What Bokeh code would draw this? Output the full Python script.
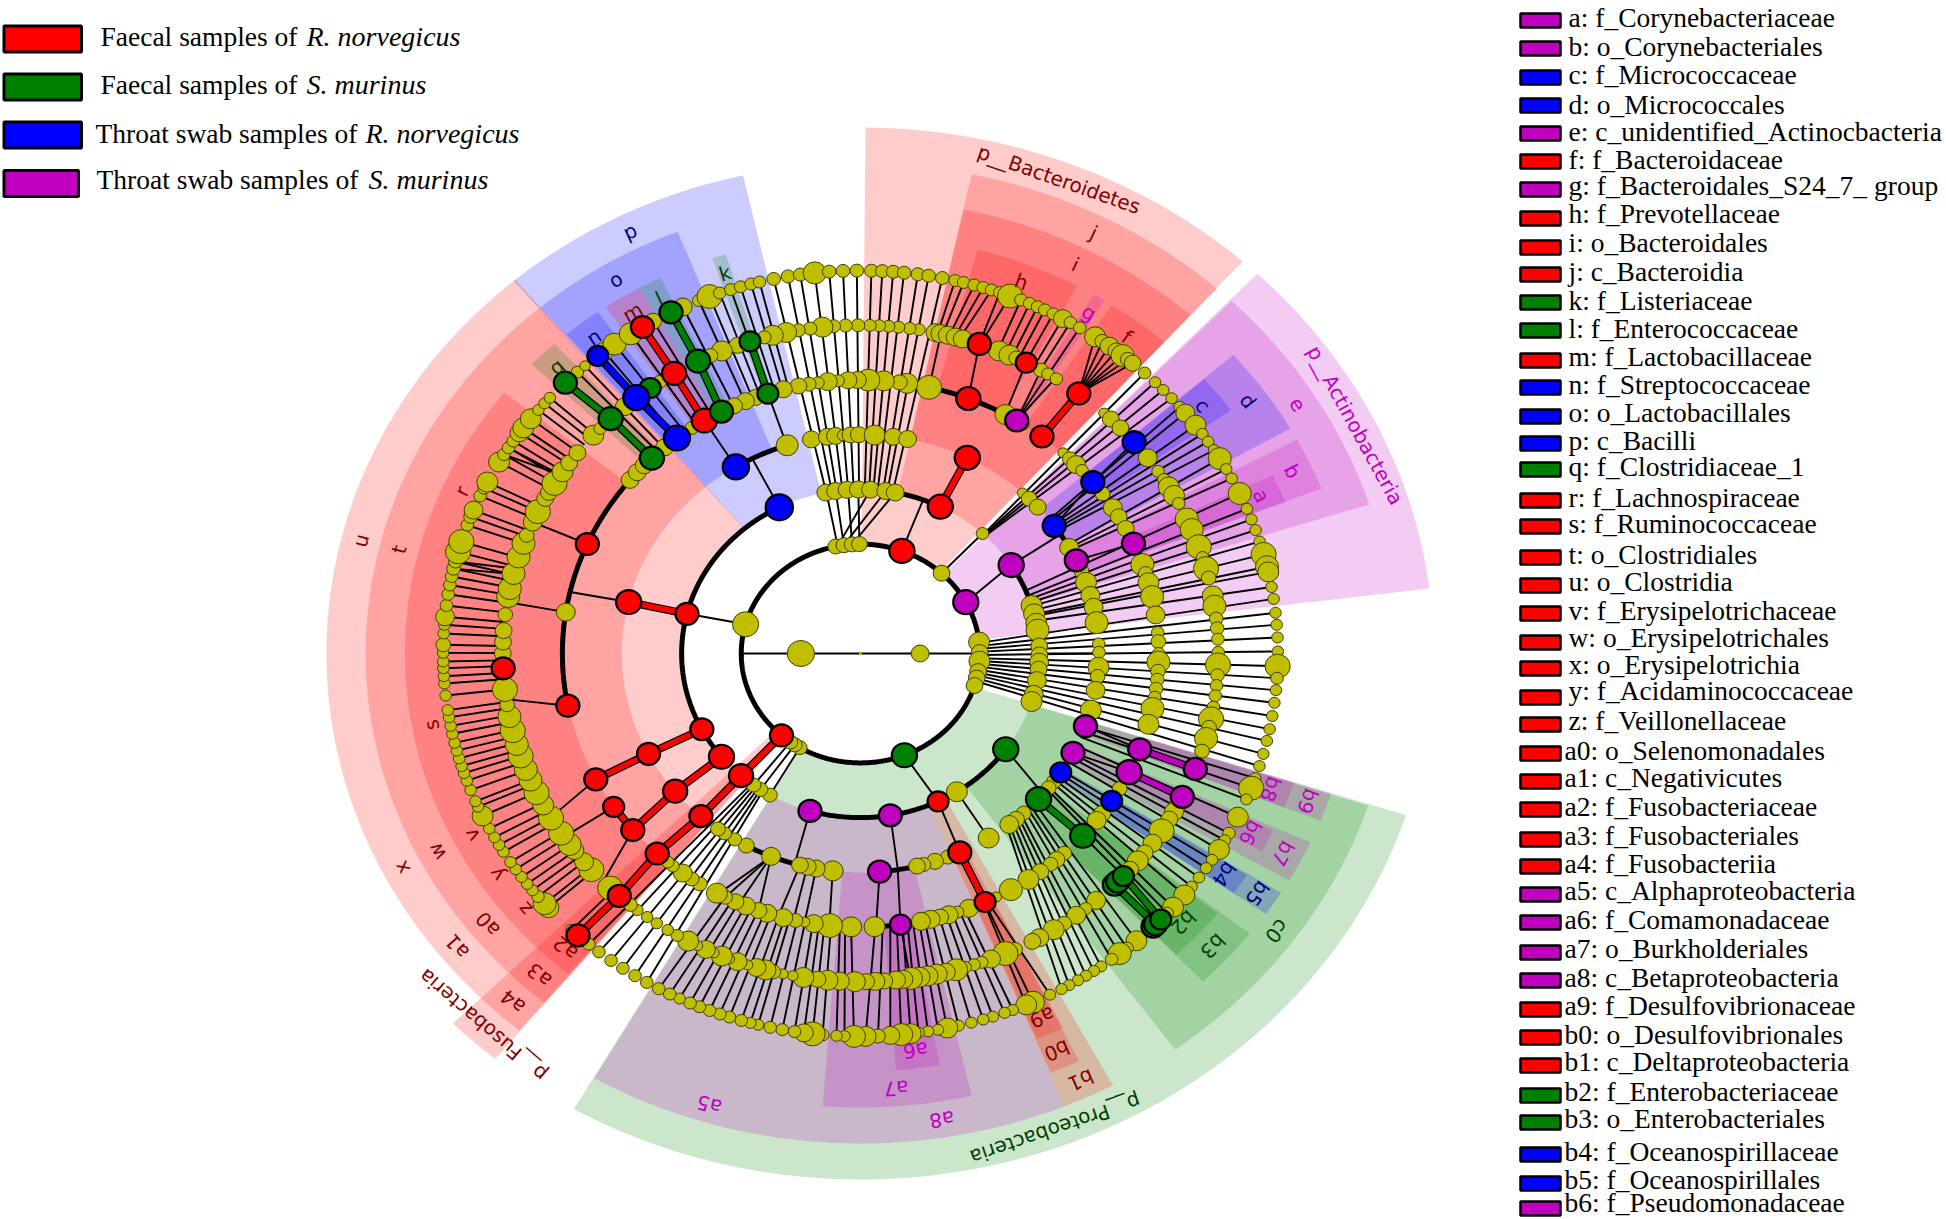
import math
from bokeh.plotting import figure
from bokeh.core.properties import value
from bokeh.embed import file_html
from bokeh.resources import INLINE

# ---------- taxa and clade sectors (degrees clockwise from 12 o'clock) ----------
wedge_label = ["p__Bacteroidetes","p__Actinobacteria","p__Proteobacteria","p__Fusobacteria",
 "e","j","p","u","x","a1","a4","c0","a5","a8","b1",
 "b","d","i","o","t","w","a0","a3","b3","b5","b7","b9","a7","b0",
 "a","c","f","g","h","k","l","m","n","q","r","s","v","y","z","a2","a6","a9","b2","b4","b6","b8"]
wedge_start = [0.5,43.8,107.9,219.6,
 44,12,319.5,248,238,225.3,219.7,108.1,184.3,157.5,151.8,
 61.9,48.9,12,319.7,248,238,225.3,219.7,128.1,121.8,114.6,108,167,153.8,
 64.8,49,33.5,30.8,14.9,341,331,326,319.8,313.8,279.3,248,238,235,225.3,219.9,170,153.6,128.4,122,115,108]
wedge_end = [41.8,82.9,210,225.3,
 72.3,41.9,347.3,319.7,248,238,225.3,143.9,209.9,184.3,157.5,
 68.7,60.3,41.8,338.3,319.6,248,238,225.3,136.2,125,120,111.6,184.4,157.4,
 68.8,54.4,41.8,32.4,28.4,342.8,334,331,324.8,317.8,308.6,279.3,248,238,235,225.3,175.5,157.2,136.1,125,118.2,111.6]
wedge_level = [2]*4 + [3]*11 + [4]*14 + [5]*22
wedge_group = ["r","m","g","r",
 "m","r","b","r","r","r","r","g","m","m","r",
 "m","b","r","b","r","r","r","r","g","b","m","m","m","r",
 "m","b","r","m","r","g","g","r","b","g","r","r","r","r","r","r","m","r","g","b","m","m"]
label_angle_override = {"p__Fusobacteria":223.0,"p__Proteobacteria":159.4,"p__Bacteroidetes":21.0,
                        "p__Actinobacteria":63.3,"s":259.7,"z":230.3,"y":236.5}

# ---------- olive (non significant) nodes per ring: (angle, diameter) ----------
ring1 = [(90,17),(270,26)]
ring2 = [(348,15),(352,15),(356,15),(359.5,15),(42.8,16),(84,20),(89.5,16),(94,20),(99.5,16),(103,16),(107,16),
         (210.6,14),(213.4,14),(216,14),(285.5,25)]
ring3 = [(348.8,17),(352,17),(355.7,17),(359.3,17),(3.2,17),(8.1,17),(11.2,17),(43,12),(73,20),(76,20),(79.4,20),
         (81.8,22),(87.4,16),(90.5,16),(93,18),(95.5,16),(99.5,18),(104.4,18),(107,20),(147.4,20),
         (210.4,14),(214,14),(216.7,14)]
ring4 = [(342.1,21),(348.1,17),(352,17),(354,17),(355.8,11),(357.6,16),(359.6,16),(3.4,20),(7.9,17),(11.4,17),
         (42.8,10),(45,15),(48,16),(61,18),(67.9,14),(71,20),(74.6,18),(77.8,18),(81.9,22),(87.5,12),(89.7,12),
         (93.6,20),(96,14),(99.7,18),(105,20),(125.8,14),(127.9,14),(136.8,14),(139.3,16),(141.4,18),(147.5,20),
         (158.5,14),(161.8,16),(164.7,14),(166.3,16),(186.7,20),(190.7,17),(192.9,17),(194.7,16),(202,18),
         (208.6,15),(211.8,13),(214.7,13),(216.7,14)]
ring5 = [(13.3,24),(9,20),(7.5,15),(4.5,20),(1.5,22),(359.4,17),(357.6,17),(355.7,12),(353.7,18),(351.8,12),(350,14),
         (348,16),(345,17),(339.4,16),(337.3,17),(334.9,16),(29.1,20),(33,12),(42.8,10),(44.6,14),(46.3,18),(48,12),
         (54.3,14),(57.8,18),(60,16),(62.8,16),(71,22),(73,14),(75,20),(78,22),(81.9,18),(85.6,12),(87.5,14),(90,12),
         (91.8,22),(93.7,14),(95.5,13),(97.4,13),(99.2,12),(101.6,22),(105,20),(119.6,14),(125.8,16),(127.6,18),
         (136.9,14),(138.9,16),(140.4,14),(142.9,16),(145.7,20),(149.7,22),(152.9,10),(158.7,18),(161,12),(162.8,18),
         (164.5,16),(166.4,18),(168.3,18),(177.3,20),(181.8,20),(185.9,24),(189,18),(190.8,10),(192.6,14),(195,18),
         (198.2,18),(200,16),(202.6,18),(204.8,16),(207,14),(208.8,20),(212.6,14),(214.5,14),(216.6,18),(219,12),
         (220.3,12),(278.7,18),(309.4,17),(311.5,17),(313.5,17),(318.9,17),(325.6,13)]
ring6 = [(12.1,18),(9.4,12),(7.9,12),(6.1,12),(4.5,12),(3,12),(1.5,12),(359.6,13),(357.6,13),(355.7,13),(353.9,20),
         (351.9,13),(350,13),(348,20),(345.8,20),(344.4,13),(339.9,16),(337.2,20),(335.2,14),
         (12.9,18),(14.1,18),(15.4,18),(16.6,18),(22.8,20),(24.6,20),(25.8,14),(30.3,14),(31.6,12),(33.2,12),
         (42.9,10),(44.4,16),(46.6,16),(53.4,18),(56.3,12),(58,12),(59.5,20),(61.2,20),(62.8,12),(65.8,22),(67.8,22),
         (71,24),(73,12),(75,24),(76.7,14),(79.9,20),(81.7,22),(83.9,13),(85.6,13),(87.5,12),(89.8,12),(92,24),(93.8,13),
         (95.6,12),(97.4,12),(99.4,12),(101.5,24),(103,14),(105,22),(107.3,14),(117.7,16),(118.8,18),(120.3,16),(122.7,24),
         (125.3,18),(127.4,16),(129.2,20),(131.1,16),(138.8,18),(141,12),(142.9,18),(145.3,14),(147.3,20),(150,18),(151.3,16),
         (154.4,14),(156.1,24),(158.6,18),(160.2,12),(161.5,12),(163,12),(164.5,22),(166.2,18),(167.7,20),(169.2,20),(170.5,20),
         (171.9,22),(173.1,18),(174.3,18),(176.2,16),(177.6,18),(179.1,16),(180.9,20),(183.3,18),(185.3,20),(186.9,16),(189.2,20),
         (190.9,10),(192.5,10),(194.1,14),(195.4,20),(196.9,18),(198.4,10),(200.1,18),(201.5,10),(202.8,20),(204.2,10),(205.6,18),
         (207.1,10),(208.8,20),(210.8,12),(212.6,11),(214.7,11),(216.6,11),(218.6,11),(220,13),(224.4,24),(228.8,24),(230.6,18),
         (233.1,18),(234.4,22),(236.8,24),(239.9,24),(242.5,20),(244.9,24),(247.3,22),(249.3,22),(251.8,24),(253.9,22),(256.4,24),
         (258.9,22),(261,14),(263.7,24),(270,16),(272,16),(274,16),(276.8,14),(280,22),(281.4,22),(284.1,22),(287.1,22),(289.6,22),
         (291.1,14),(293.6,18),(295.6,24),(298.2,16),(299.4,16),(301.2,24),(303.6,20),(305.5,16),(307.7,16),(311.7,20),(313.3,12),
         (318.8,18),(325.8,13)]
ring7 = [(223.8,11),(228.4,20),(229.2,22),(230.6,12),(231.8,11),(233,11),(234.3,11),(235.7,11),(237,11),(238.8,11),(240,11),
         (241.3,11),(242.8,11),(244.9,20),(246.4,11),(247.3,11),(249.1,11),(250.6,11),(251.8,11),(252.9,11),(254.1,11),(255.3,11),
         (256.5,11),(257.9,11),(259.1,11),(260.4,11),(261.5,11),(263.7,11),(265.5,11),(266.6,11),(267.8,11),(268.8,11),(270.1,11),
         (271.3,14),(273,11),(274.3,11),(275.5,18),(277.2,12),(278.9,12),(280.3,12),(281.6,12),(282.8,13),(283.9,13),(285.4,24),
         (287,24),(289.6,12),(290.9,13),(292,18),(294.3,12),(295.6,12),(296.6,20),(300,20),(301.3,12),(302.5,12),(303.7,12),(305.2,18),
         (306.1,20),(307.8,20),(309.5,11),(310.8,11),(311.9,11),(317.3,12),(318.7,10),(322.1,18),(323.9,22),(326.6,22),(330.2,16),
         (334.8,18),(337.2,12),(338.8,24),(340.3,12),(341.9,12),(343.3,12),(344.8,12),(346,12),(348,13),(350,13),(351.7,13),(353.7,22),
         (355.7,13),(357.6,13),(359.5,13),(1.5,13),(3,13),(4.5,13),(6,13),(7.9,13),(9.4,13),(11.3,13),(13.1,12),(14.3,12),(15.8,12),
         (17.1,12),(18.3,12),(19.5,12),(21,24),(22.6,12),(23.9,12),(25.1,12),(26.2,12),(27.5,12),(29,18),(30.2,12),(31.7,12),(34.2,20),
         (35.4,14),(36.6,18),(37.8,16),(38.9,22),(39.8,14),(40.7,16),(42.9,12),(44.9,11),(46.5,11),(48.2,11),(49.9,11),(51.1,18),(53.4,20),
         (55,11),(56.4,11),(57.9,11),(59.4,22),(61.2,11),(62.8,11),(65.3,22),(67.8,11),(69.5,11),(71.2,11),(73,11),(75,24),(76.9,22),(77.7,20),
         (80,11),(81.8,11),(83.9,11),(85.7,11),(87.6,11),(89.7,11),(91.9,24),(93.7,12),(95.5,11),(97.4,11),(99.4,11),(101.4,11),(103.2,11),
         (105.2,11),(107.1,11),(109,11),(110.6,24),(112.4,11),(115.3,20),(118,12),(119.2,11),(120.8,20),(122.6,11),(124.1,11),(125.8,11),
         (127.5,11),(129.1,20),(131.5,20),(132.7,12),(138.6,20),(140.3,12),(141.6,22),(143,12),(144.8,11),(146,11),(147.3,11),(148.6,11),(150,11),
         (151.2,11),(153,11),(155.6,22),(156.6,20),(158.6,11),(159.8,11),(161.5,11),(162.9,11),(164.6,11),(166.4,11),(168,20),(169.3,11),(170.7,11),
         (172,11),(173.1,20),(174.4,22),(175.9,18),(177.6,14),(179.3,20),(180.9,22),(182.2,11),(183.3,11),(185.2,12),(186.6,24),(187.8,18),(189.1,12),
         (190.8,12),(192.5,12),(194.2,11),(195.3,11),(196.6,12),(198.3,12),(199.7,12),(201.2,12),(202.7,12),(204.1,12),(205.7,11),(207.2,12),(208.9,12),
         (210.8,12),(212.7,12),(214.7,12),(216.7,12),(218.8,12),(220.6,12)]

# ---------- significant nodes: (ring, angle, group, diameter) ----------
sig_nodes = [(2,20.3,"r",24),(2,62,"m",24),(2,158.4,"g",24),(2,221.5,"r",22),
 (3,333,"b",26),(3,284,"r",22),(3,242.5,"r",22),(3,231,"r",24),(3,221.9,"r",23),(3,26.5,"r",24),(3,57.4,"m",24),
 (3,125.7,"g",24),(3,154.3,"r",20),(3,170.4,"m",22),(3,196.4,"m",22),
 (4,328.5,"b",25),(4,26.6,"r",24),(4,54.3,"b",22),(4,64.8,"m",22),(4,109.4,"m",22),(4,117,"m",22),(4,122.9,"b",20),
 (4,131.7,"g",24),(4,155.4,"r",22),(4,175.4,"m",22),(4,222,"r",22),(4,231,"r",23),(4,242.7,"r",22),(4,283.6,"r",24),
 (5,229.8,"r",22),(5,235.9,"r",20),(5,242.6,"r",22),(5,223,"r",22),(5,293.6,"r",22),(5,259,"r",22),(5,315.6,"g",23),
 (5,322,"b",25),(5,328.4,"r",24),(5,332.2,"g",22),(5,341.9,"g",20),(5,21.2,"r",23),(5,31.6,"m",22),(5,37.5,"r",22),
 (5,51.2,"b",22),(5,66.3,"m",22),(5,110.5,"m",22),(5,115.7,"m",24),(5,122.6,"b",20),(5,131.8,"g",24),(5,155.3,"r",20),(5,172.3,"m",20),
 (6,267.4,"r",22),(6,315.7,"g",23),(6,324,"g",20),(6,321.2,"b",25),(6,328.6,"r",23),(6,333,"g",23),(6,342,"g",20),(6,19.4,"r",22),(6,27.6,"r",20),
 (6,37.6,"r",22),(6,49.9,"b",22),(6,110.6,"m",22),(6,115.9,"m",22),(6,134.8,"g",22),(6,134,"g",22),(6,132.7,"g",20),(6,222.4,"r",22),
 (7,222.6,"r",22),(7,315,"g",22),(7,321,"b",20),(7,328.5,"r",22),(7,333,"g",22),(7,135.5,"g",22),(7,135,"g",22),(7,134,"g",20)]

# ---------- tree structure ----------
arcs = [(2,0,360),(3,231,333),(3,349,386.5),(3,57.4,107),(3,125.7,196.4),(4,328.5,342),(4,54.3,61),(4,166.3,175.4),
        (4,194.7,208.6),(5,259,309.4),(5,13.3,29.1),(5,172.3,177.3)]
# leaf fans: first angle, last angle, ring reached, centre of fan, narrowing
fans = [(223.5,312,6,268,1),(312,347.5,5,330,1),(347.5,372,3,0,.92),(11,19,6,11,.7),(19,21.5,6,19.4,.1),(21.5,32,6,27,1),
        (33.5,41,6,37.6,0),(42,49,3,43.5,.15),(49.5,58,4,54.3,.45),(58,64,4,61,.45),(64,80,3,74,.75),(80,108,2,95,.8),
        (108,122,4,113,.85),(122,133,4,122,.6),(138,152,4,119,.72),(152.5,158,5,155.3,.2),(158,180,5,165,.85),
        (180,209.5,5,190,.9),(210,221,3,215,.45)]
thin_edges = [(0,0,1,90),(0,0,1,270),(1,90,2,90),(1,270,2,270),
 (2,20.3,3,20.5),(2,285.5,3,284),(2,42.8,3,43),(2,62,3,57.4),(2,158.4,3,154.3),(2,349,3,349),(2,352,3,352),(2,356,3,356),(2,359.5,3,359.3),
 (2,349,3,3.2),(2,352,3,8.1),(2,356,3,11.2),(2,210.6,3,210.4),(2,213.4,3,214),(2,216,3,216.7),
 (3,333,4,333),(3,57.4,4,57),(3,125.7,4,130),(3,147.4,4,147.5),(3,154.3,4,155.4),(3,170.4,4,171),(3,196.4,4,196),(3,90,4,90),
 (4,283.6,5,283),(4,328.5,5,328.4),(4,342,5,341.9),(4,54.3,5,51.2),(4,64.8,5,66.3),(4,109.4,5,110.5),(4,117,5,115.7),
 (4,175.4,5,177),(4,171,5,172.3),(4,186.7,5,186),(4,190.7,5,190.8),(4,192.9,5,193),(4,194.7,5,196),(4,202,5,200),(4,202,5,204),(4,202,5,207),(4,202,5,208.5),
 (5,293.6,6,293.6),(5,259,6,262),(5,278.7,6,279),(5,51.2,6,49.9),(5,131.8,6,132.7),(5,21.2,6,19.4),(5,29,6,27.6),
 (5,31.6,6,30.3),(5,31.6,6,31.6),(5,31.6,6,33),(5,242.6,6,240),(5,229.8,6,226),(5,235.9,6,236),(5,13.3,6,13),(5,172.3,6,172),
 (6,284,7,282.8),(6,285,7,283.9),(6,303,7,301.3),(6,303,7,302.5)]
thick_edges = [("r",3,284,4,283.6),("r",3,26.5,4,26.6),("r",5,37.5,6,37.6),("r",2,221.5,3,221.9),("r",3,221.9,4,222),("r",4,222,5,223),
 ("r",5,223,6,222.4),("r",6,222.4,7,222.6),("r",3,242.5,4,242.7),("r",4,242.7,5,242.6),("r",3,231,4,231),("r",4,231,5,229.8),
 ("r",5,229.8,5,235.9),("r",4,155.4,5,155.3),("r",5,328.4,6,328.6),("r",6,328.6,7,328.5),
 ("b",5,322,6,321.2),("b",6,321.2,7,321),("g",5,315.6,6,315.7),("g",6,315.7,7,315),("g",5,332.2,6,333),("g",6,333,7,333),
 ("g",5,341.9,6,342),("g",4,131.7,5,131.8),("g",6,132.7,7,134),("g",6,134.8,7,135),("m",5,110.5,6,110.6),("m",5,115.7,6,115.9)]

# ---------- legends ----------
legend_prefix = ["Faecal samples of ","Faecal samples of ","Throat swab samples of ","Throat swab samples of "]
legend_species = ["R. norvegicus","S. murinus","R. norvegicus","S. murinus"]
legend_group = ["r","g","b","m"]
key_names = ["a: f_Corynebacteriaceae","b: o_Corynebacteriales","c: f_Micrococcaceae","d: o_Micrococcales",
 "e: c_unidentified_Actinocbacteria","f: f_Bacteroidaceae","g: f_Bacteroidales_S24_7_ group","h: f_Prevotellaceae",
 "i: o_Bacteroidales","j: c_Bacteroidia","k: f_Listeriaceae","l: f_Enterococcaceae","m: f_Lactobacillaceae",
 "n: f_Streptococcaceae","o: o_Lactobacillales","p: c_Bacilli","q: f_Clostridiaceae_1","r: f_Lachnospiraceae",
 "s: f_Ruminococcaceae","t: o_Clostridiales","u: o_Clostridia","v: f_Erysipelotrichaceae","w: o_Erysipelotrichales",
 "x: o_Erysipelotrichia","y: f_Acidaminococcaceae","z: f_Veillonellaceae","a0: o_Selenomonadales","a1: c_Negativicutes",
 "a2: f_Fusobacteriaceae","a3: f_Fusobacteriales","a4: f_Fusobacteriia","a5: c_Alphaproteobacteria","a6: f_Comamonadaceae",
 "a7: o_Burkholderiales","a8: c_Betaproteobacteria","a9: f_Desulfovibrionaceae","b0: o_Desulfovibrionales",
 "b1: c_Deltaproteobacteria","b2: f_Enterobacteriaceae","b3: o_Enterobacteriales","b4: f_Oceanospirillaceae",
 "b5: f_Oceanospirillales","b6: f_Pseudomonadaceae"]
key_group = list("mmbbmrmrrrggrbbbgrrrrrrrrr") + list("rrrrrmmmmrrrggbbm")

# ---------- layout and style ----------
CX, CY, SX, STEP = 860.0, 653.0, 1.09, 54.7
OUTER = {2:526, 3:490, 4:454, 5:418}
INNER = {2:109, 3:164, 4:219, 5:273}
FILL = {"r":"#FF0000","g":"#008000","b":"#0000FF","m":"#BF00BF"}
TXT = {"r":"#7F0000","g":"#004000","b":"#00007F","m":"#BF00BF"}
OLIVE = "#BFBF00"
key_text_y = [16.5,45.5,74,104,131,158.5,184.5,213,241.5,270.5,300,327.5,355.5,383.5,411.5,439.5,465.5,496.5,522.5,553.5,580.5,609.5,636.5,663.5,689.5,719.5,749.5,776.5,805.5,834.5,862.5,889.5,918.5,947.5,976.5,1004.5,1033.5,1060.5,1090.5,1117.5,1150.5,1178.5,1202]
key_rect_y = [20,48,77,105,133,161,189,218,247,274,302,330,360,387,416,443,469,500,526,557,585,613,642,668,697,724,753,781,809,839,866,894,922,952,980,1009,1037,1065,1095,1122,1154,1183,1208]
legend_rect_y = [38.5,86.5,134.5,183]
legend_text_y = [36,84,132.5,178.5]
legend_text_x = [100,100,95,96]
legend_ital_x = [306,306,365,368]
legend_rect_r = [81,81,81,78]

def xy(r, a):
    t = math.radians(a)
    return CX + r*SX*math.sin(t), CY - r*math.cos(t)
def rr(ring):
    return ring*STEP
def sector(r0, r1, a0, a1):
    n = max(2, int(abs(a1-a0))+2)
    aa = [a0 + (a1-a0)*i/(n-1) for i in range(n)]
    pts = [xy(r1, a) for a in aa] + [xy(r0, a) for a in reversed(aa)]
    return [q[0] for q in pts], [q[1] for q in pts]

p = figure(width=1946, height=1219, x_range=(0,1946), y_range=(1219,0), output_backend="svg",
           toolbar_location=None, min_border=0)
p.axis.visible = False
p.grid.visible = False
p.outline_line_color = None

# sectors
xs, ys, cs = [], [], []
for a0, a1, lev, g in zip(wedge_start, wedge_end, wedge_level, wedge_group):
    x_, y_ = sector(INNER[lev], OUTER[lev], a0, a1)
    xs.append(x_); ys.append(y_); cs.append(FILL[g])
p.patches(xs, ys, fill_color=cs, fill_alpha=0.2, line_color=None)

# thin branches: fans of leaves, then single edges
xs, ys = [], []
def diff(a, c):
    return (a - c + 180) % 360 - 180
for a,_ in ring7:
    for lo, hi, ring, c, k in fans:
        aa = a if a >= lo else a + 360
        if lo <= aa <= hi:
            b = c + diff(a, c)*k
            x0,y0 = xy(rr(7), a); x1,y1 = xy(rr(ring), b)
            xs.append([x0,x1]); ys.append([y0,y1])
            break
for r0,a0,r1,a1 in thin_edges:
    x0,y0 = xy(rr(r0),a0); x1,y1 = xy(rr(r1),a1)
    xs.append([x0,x1]); ys.append([y0,y1])
p.multi_line(xs, ys, line_color="#000000", line_width=1.9)

# thick arcs
xs, ys = [], []
for ring,a0,a1 in arcs:
    n = int(a1-a0)*2+2
    pts = [xy(rr(ring), a0+(a1-a0)*i/(n-1)) for i in range(n)]
    xs.append([q[0] for q in pts]); ys.append([q[1] for q in pts])
p.multi_line(xs, ys, line_color="#000000", line_width=5)

# thick coloured edges
xs, ys, cs = [], [], []
for g,r0,a0,r1,a1 in thick_edges:
    x0,y0 = xy(rr(r0),a0); x1,y1 = xy(rr(r1),a1)
    xs.append([x0,x1]); ys.append([y0,y1]); cs.append(FILL[g])
p.multi_line(xs, ys, line_color="#000000", line_width=8)
p.multi_line(xs, ys, line_color=cs, line_width=5.5)

# olive nodes, inner rings last
for ring, nodes in ((7,ring7),(6,ring6),(5,ring5),(4,ring4),(3,ring3),(2,ring2),(1,ring1)):
    pts = [xy(rr(ring),a) for a,_ in nodes]
    p.ellipse([q[0] for q in pts],[q[1] for q in pts],
              width=[d*1.05 for _,d in nodes], height=[d for _,d in nodes],
              fill_color=OLIVE, line_color="#3F3F00", line_width=1)
p.ellipse([CX],[CY],width=[3],height=[3],fill_color=OLIVE,line_color=None)

# significant nodes
pts = [xy(rr(r),a) for r,a,_,_ in sig_nodes]
p.ellipse([q[0] for q in pts],[q[1] for q in pts],
          width=[d*1.05 for *_,d in sig_nodes], height=[d for *_,d in sig_nodes],
          fill_color=[FILL[g] for _,_,g,_ in sig_nodes], line_color="#000000", line_width=2.2)

# sector labels
lx, ly, lt, la, lc = [], [], [], [], []
for lab,a0,a1,lev,g in zip(wedge_label,wedge_start,wedge_end,wedge_level,wedge_group):
    a = label_angle_override.get(lab,(a0+a1)/2)
    x_,y_ = xy(OUTER[lev]-18,a)
    t = math.radians(a)
    lx.append(x_); ly.append(y_); lt.append(lab)
    la.append(-math.atan2(math.sin(t), SX*math.cos(t)))
    lc.append(TXT[g])
p.text(lx, ly, text=lt, angle=la, text_color=lc, text_font=value("DejaVu Sans"), text_font_size="20px",
       text_align="center", text_baseline="middle")

# left legend
p.quad(left=[3.5]*4, right=legend_rect_r, top=[y-13 for y in legend_rect_y], bottom=[y+13 for y in legend_rect_y],
       fill_color=[FILL[g] for g in legend_group], line_color="#000000", line_width=3)
p.text(legend_text_x, legend_text_y, text=legend_prefix, text_color="#000000", text_font=value("Liberation Serif"),
       text_font_size="27.5px", text_align="left", text_baseline="middle")
p.text(legend_ital_x, legend_text_y, text=legend_species, text_color="#000000", text_font=value("Liberation Serif"),
       text_font_style="italic", text_font_size="28px", text_align="left", text_baseline="middle")

# key of letters
p.quad(left=[1520]*len(key_rect_y), right=[1560]*len(key_rect_y), top=[y-7 for y in key_rect_y], bottom=[y+7 for y in key_rect_y],
       fill_color=[FILL[g] for g in key_group], line_color="#000000", line_width=2.5)
key_x = [1568 if n[1]==":" else 1564 for n in key_names]
p.text(key_x, key_text_y, text=key_names, text_color="#000000", text_font=value("Liberation Serif"),
       text_font_size="27.5px", text_align="left", text_baseline="middle")

open("out.html","w").write(file_html(p, INLINE))
